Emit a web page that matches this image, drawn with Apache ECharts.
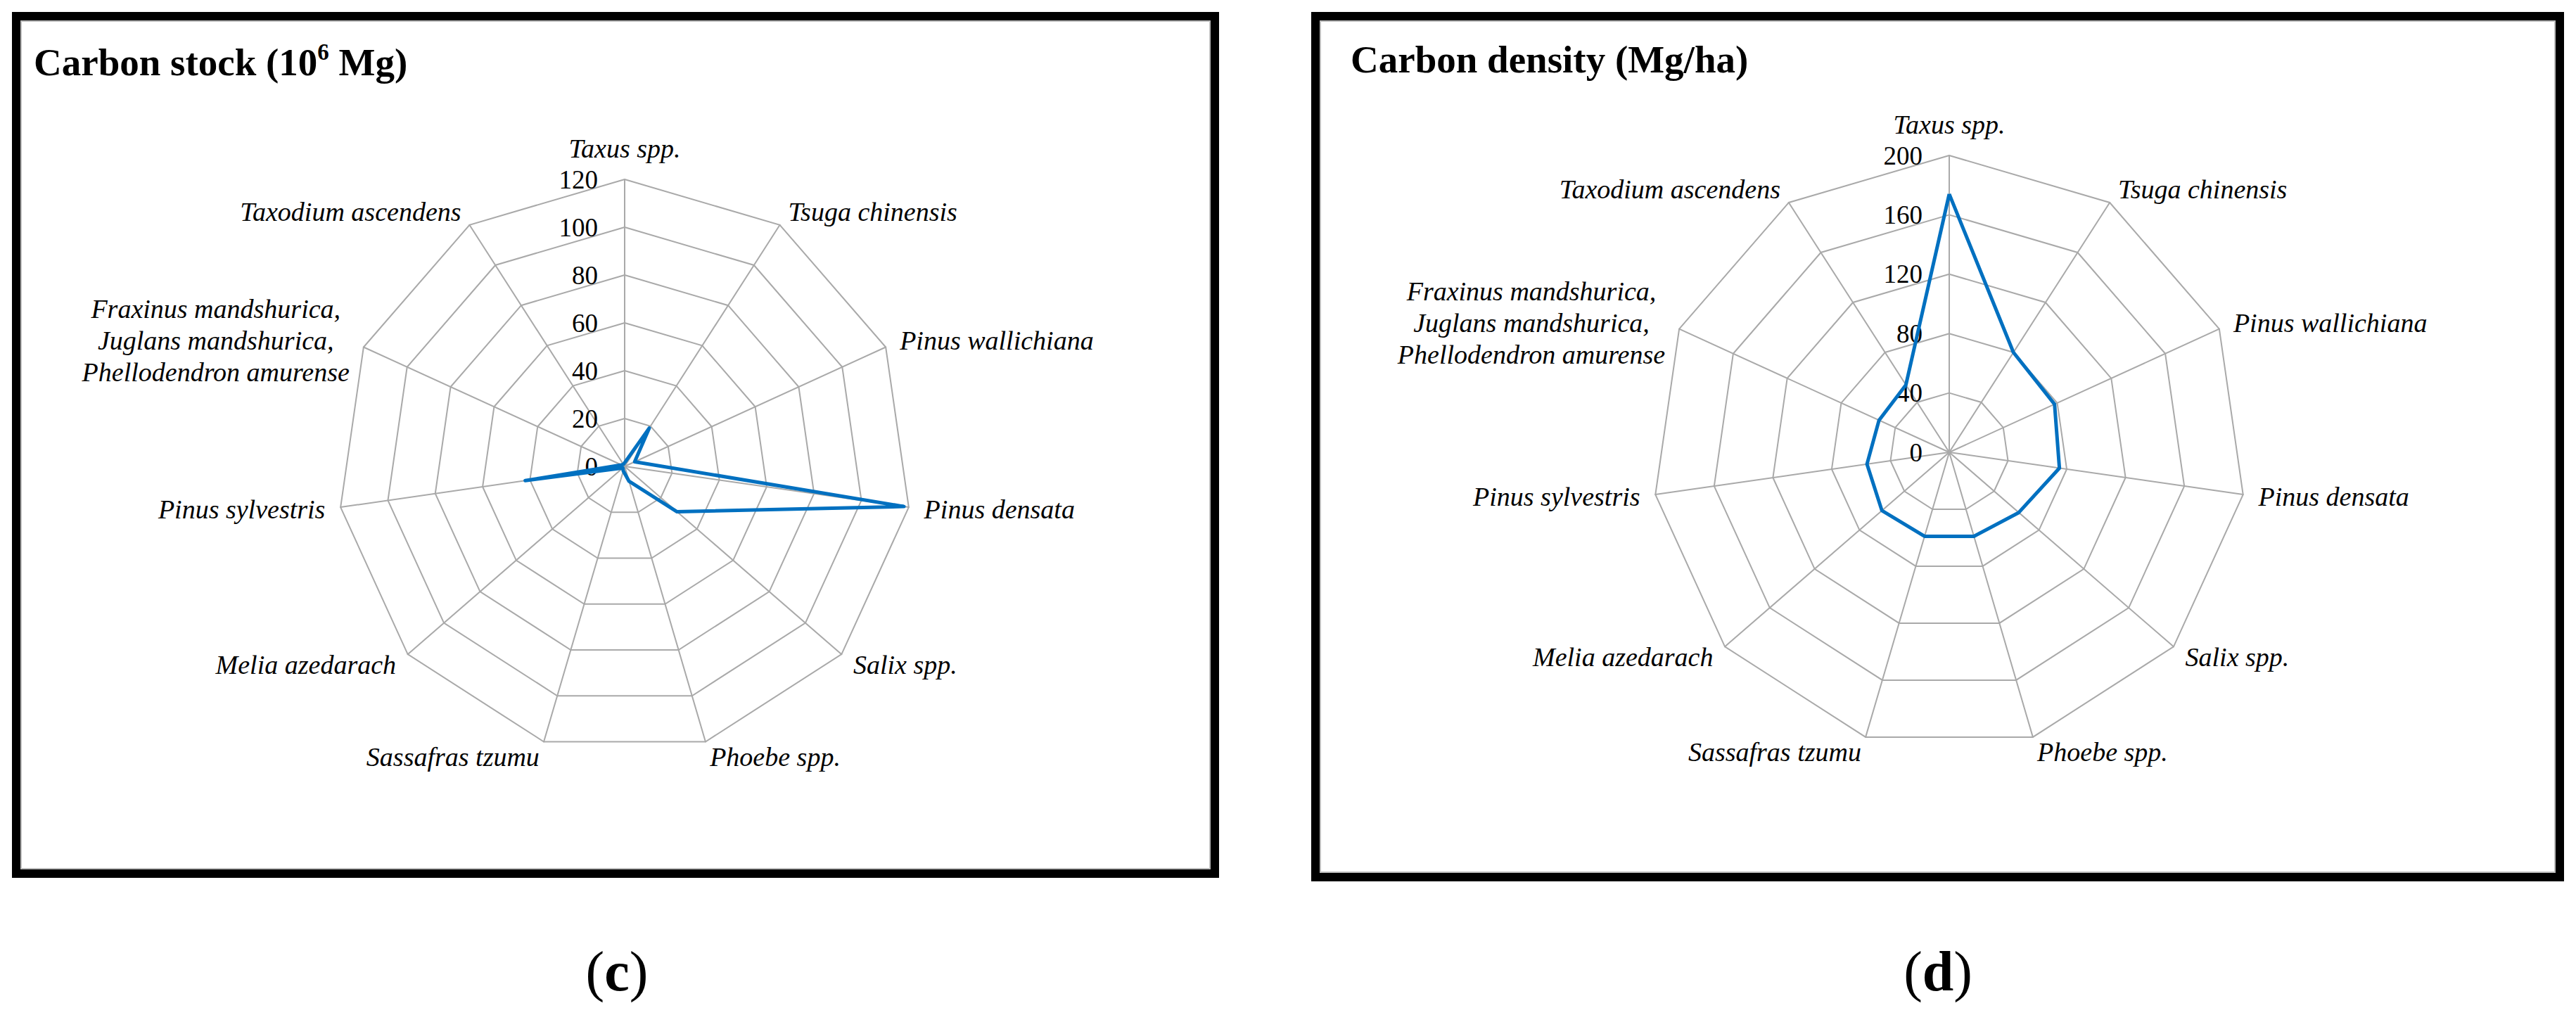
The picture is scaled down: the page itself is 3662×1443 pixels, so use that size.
<!DOCTYPE html>
<html>
<head>
<meta charset="utf-8">
<script src="https://cdn.jsdelivr.net/npm/echarts@6/dist/echarts.min.js"></script>
<style>
html,body{margin:0;padding:0;background:#fff;}
#chart{width:3662px;height:1443px;}
</style>
</head>
<body>
<div id="chart"></div>
<script>
// ---- data ----
const categories = [
  'Taxus spp.',
  'Tsuga chinensis',
  'Pinus wallichiana',
  'Pinus densata',
  'Salix spp.',
  'Phoebe spp.',
  'Sassafras tzumu',
  'Melia azedarach',
  'Pinus sylvestris',
  'Fraxinus mandshurica,\nJuglans mandshurica,\nPhellodendron amurense',
  'Taxodium ascendens'
];
const carbonStock = [1.5, 19, 4.6, 118, 29, 6.5, 2, 1, 42, 1.5, 1];
const carbonDensity = [174, 80, 78, 75, 62, 59, 59, 60, 56, 52, 54];
const stockTicks = [0, 20, 40, 60, 80, 100, 120];
const densityTicks = [0, 40, 80, 120, 160, 200];
const stockTitle = 'Carbon stock (10{sup|6} Mg)';
const densityTitle = 'Carbon density (Mg/ha)';
const panelLabels = ['c', 'd'];

// ---- build options ----
const FONT = "'Liberation Serif', 'Times New Roman', serif";
const n = categories.length;
// ECharts radar places indicators counter-clockwise; reorder so they run clockwise
const order = [0];
for (let i = n - 1; i >= 1; i--) order.push(i);
const reorder = arr => order.map(i => arr[i]);

const tickLabelStyle = {
  show: true,
  color: '#000',
  fontFamily: FONT,
  fontSize: 37,
  margin: 38
};

function makeRadar(center, radius, ticks) {
  const max = ticks[ticks.length - 1];
  const min = ticks[0];
  return {
    center: center,
    radius: radius,
    startAngle: 90,
    shape: 'polygon',
    splitNumber: ticks.length - 1,
    nameGap: 22,
    indicator: reorder(categories).map((name, k) => {
      const ind = { name: name, min: min, max: max };
      ind.axisLabel = k === 0 ? Object.assign({}, tickLabelStyle) : { show: false };
      return ind;
    }),
    axisName: {
      color: '#000',
      fontFamily: FONT,
      fontStyle: 'italic',
      fontSize: 38,
      lineHeight: 45,
      formatter: function (v) {
        return v.split('\n').map(l => '{n|' + l + '}').join('\n');
      },
      rich: {
        n: { align: 'center', fontFamily: FONT, fontStyle: 'italic', fontSize: 38, lineHeight: 45, color: '#000' }
      }
    },
    axisLabel: Object.assign({}, tickLabelStyle),
    axisTick: { show: false },
    axisLine: { show: true, lineStyle: { color: '#a9a9a9', width: 2 } },
    splitLine: { show: true, lineStyle: { color: '#a9a9a9', width: 2 } },
    splitArea: { show: false }
  };
}

const chart = echarts.init(document.getElementById('chart'), null, { renderer: 'svg' });

const option = {
  backgroundColor: '#fff',
  animation: false,
  title: [
    {
      text: stockTitle, left: 43, top: 52,
      textStyle: {
        fontFamily: FONT, fontWeight: 'bold', fontSize: 55, color: '#000', lineHeight: 62,
        rich: { sup: { fontFamily: FONT, fontWeight: 'bold', fontSize: 33, lineHeight: 40, verticalAlign: 'top', color: '#000' } }
      }
    },
    {
      text: densityTitle, left: 1915, top: 48,
      textStyle: { fontFamily: FONT, fontWeight: 'bold', fontSize: 55, color: '#000', lineHeight: 62 }
    }
  ],
  radar: [
    makeRadar([888, 663], 408, stockTicks),
    makeRadar([2771, 643], 422, densityTicks)
  ],
  series: [
    {
      type: 'radar', radarIndex: 0, symbol: 'none',
      lineStyle: { color: '#0070C0', width: 5 },
      data: [{ value: reorder(carbonStock), name: 'Carbon stock' }]
    },
    {
      type: 'radar', radarIndex: 1, symbol: 'none',
      lineStyle: { color: '#0070C0', width: 5 },
      data: [{ value: reorder(carbonDensity), name: 'Carbon density' }]
    }
  ],
  graphic: [
    { type: 'rect', shape: { x: 23, y: 23, width: 1704, height: 1219 }, style: { fill: null, stroke: '#000', lineWidth: 12 } },
    { type: 'rect', shape: { x: 30, y: 30, width: 1690, height: 1205 }, style: { fill: null, stroke: '#bdbdbd', lineWidth: 2 } },
    { type: 'rect', shape: { x: 1870, y: 23, width: 1769, height: 1224 }, style: { fill: null, stroke: '#000', lineWidth: 12 } },
    { type: 'rect', shape: { x: 1877, y: 30, width: 1755, height: 1210 }, style: { fill: null, stroke: '#bdbdbd', lineWidth: 2 } },
    {
      type: 'text', x: 877, y: 1381,
      style: {
        text: '(' + '{b|' + panelLabels[0] + '}' + ')', align: 'center', verticalAlign: 'middle',
        fontFamily: FONT, fontSize: 80, fill: '#000',
        rich: { b: { fontFamily: FONT, fontSize: 80, fontWeight: 'bold', fill: '#000' } }
      }
    },
    {
      type: 'text', x: 2755, y: 1381,
      style: {
        text: '(' + '{b|' + panelLabels[1] + '}' + ')', align: 'center', verticalAlign: 'middle',
        fontFamily: FONT, fontSize: 80, fill: '#000',
        rich: { b: { fontFamily: FONT, fontSize: 80, fontWeight: 'bold', fill: '#000' } }
      }
    }
  ]
};
chart.setOption(option);
</script>
</body>
</html>
